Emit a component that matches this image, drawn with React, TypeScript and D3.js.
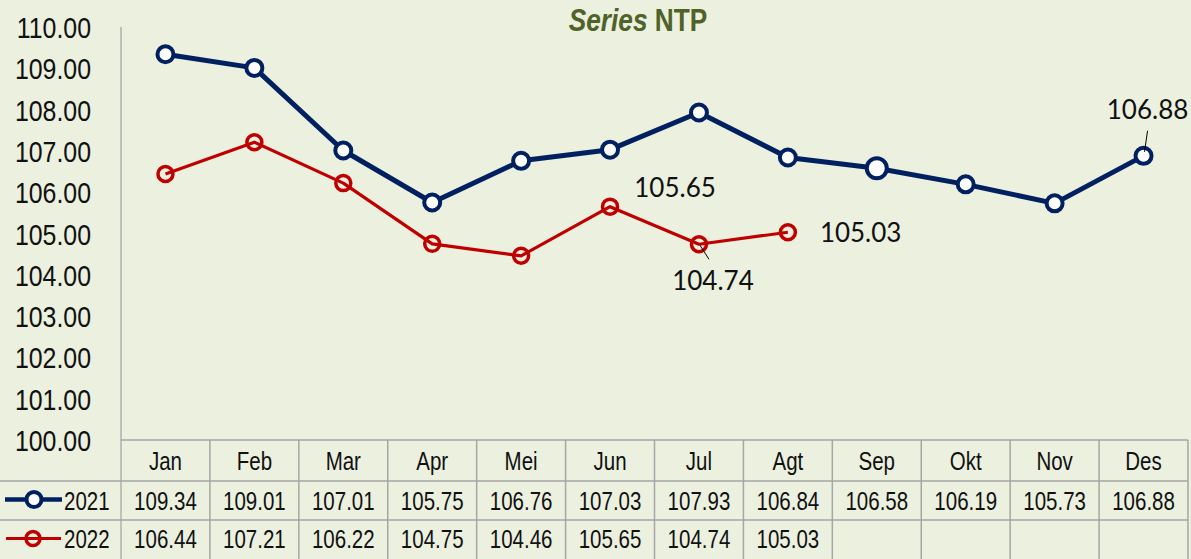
import * as d3 from "d3";
import React, { useEffect, useRef } from "react";

const months = ["Jan", "Feb", "Mar", "Apr", "Mei", "Jun", "Jul", "Agt", "Sep", "Okt", "Nov", "Des"];
const values2021 = [109.34, 109.01, 107.01, 105.75, 106.76, 107.03, 107.93, 106.84, 106.58, 106.19, 105.73, 106.88];
const values2022 = [106.44, 107.21, 106.22, 104.75, 104.46, 105.65, 104.74, 105.03];
const yTicks = [100, 101, 102, 103, 104, 105, 106, 107, 108, 109, 110];

// data labels shown on the chart: series, month index, offset from the point
const pointLabels = [
  { series: "2022", i: 5, dx: 65, dy: -10, anchor: "middle", leader: false },
  { series: "2022", i: 6, dx: 14, dy: 46, anchor: "middle", leader: true },
  { series: "2022", i: 7, dx: 32, dy: 10, anchor: "start", leader: false },
  { series: "2021", i: 11, dx: 4, dy: -37, anchor: "middle", leader: true },
];

const W = 1191;
const H = 559;
const BG = "#EBF0DF";
const NAVY = "#002060";
const RED = "#C00000";
const GRID = "#A6A6A6";
const NARROW = "'Liberation Sans', Arial, sans-serif";
const SQUEEZE = 0.82; // no Arial Narrow here, so squeeze Liberation Sans

const App = () => {
  const ref = useRef<SVGSVGElement | null>(null);

  useEffect(() => {
    const svg = d3.select(ref.current);
    svg.selectAll("*").remove();

    let plotLeft = 121, plotRight = 1188, plotTop = 27, plotBottom = 440;
    let rowY = [440, 481, 520, H];

    const x = d3.scaleBand().domain(months).range([plotLeft, plotRight]);
    const cx = (m) => x(m) + x.bandwidth() / 2;
    const y = d3.scaleLinear().domain([100, 110]).range([plotBottom, plotTop]);

    // narrow text helper
    const narrow = (g, tx, ty, size, anchor = "middle", sq = SQUEEZE) =>
      g.append("text")
        .attr("transform", `translate(${tx},${ty}) scale(${sq},1)`)
        .attr("text-anchor", anchor)
        .style("font-family", NARROW)
        .style("font-size", size + "px")
        .attr("fill", "#111");

    svg.append("rect").attr("width", W).attr("height", H).attr("fill", BG);

    // title
    const title = narrow(svg, 638, 31, 32).attr("fill", "#4F6228").style("font-weight", "bold");
    title.append("tspan").style("font-style", "italic").text("Series ");
    title.append("tspan").text("NTP");

    // y axis
    svg.append("line")
      .attr("x1", plotLeft).attr("x2", plotLeft)
      .attr("y1", plotTop).attr("y2", H)
      .attr("stroke", GRID).attr("stroke-width", 1.3);

    yTicks.forEach(t => {
      narrow(svg, 91, y(t) + 11, 30, "end", 0.83).text(d3.format(".2f")(t));
    });

    // table lines
    svg.append("line").attr("x1", plotLeft).attr("x2", plotRight)
      .attr("y1", rowY[0]).attr("y2", rowY[0]).attr("stroke", GRID).attr("stroke-width", 1.5);
    [rowY[1], rowY[2]].forEach(yy => {
      svg.append("line").attr("x1", 0).attr("x2", plotRight)
        .attr("y1", yy).attr("y2", yy).attr("stroke", GRID).attr("stroke-width", 1.5);
    });
    months.forEach(m => {
      svg.append("line").attr("x1", x(m) + x.bandwidth()).attr("x2", x(m) + x.bandwidth())
        .attr("y1", rowY[0]).attr("y2", H).attr("stroke", GRID).attr("stroke-width", 1.5);
    });

    months.forEach(m => {
      narrow(svg, cx(m), 470, 25).text(m);
    });

    const rows = [
      { name: "2021", vals: values2021, base: 510 },
      { name: "2022", vals: values2022, base: 548 },
    ];
    rows.forEach(r => {
      r.vals.forEach((v, i) => {
        narrow(svg, cx(months[i]), r.base, 25).text(v.toFixed(2));
      });
      narrow(svg, 64, r.base, 25, "start").text(r.name);
    });

    // legend keys
    const ly1 = (rowY[1] + rowY[2]) / 2 - 1;
    svg.append("line").attr("x1", 5).attr("x2", 62).attr("y1", ly1).attr("y2", ly1)
      .attr("stroke", NAVY).attr("stroke-width", 4.5);
    svg.append("circle").attr("cx", 34).attr("cy", ly1).attr("r", 7.5)
      .attr("fill", "white").attr("stroke", NAVY).attr("stroke-width", 4);
    const ly2 = (rowY[2] + H) / 2 - 1;
    svg.append("line").attr("x1", 6).attr("x2", 61).attr("y1", ly2).attr("y2", ly2)
      .attr("stroke", RED).attr("stroke-width", 3);
    svg.append("circle").attr("cx", 33).attr("cy", ly2).attr("r", 7)
      .attr("fill", "none").attr("stroke", RED).attr("stroke-width", 3.5);

    // lines
    const line = d3.line<number>()
      .x((d, i) => cx(months[i]))
      .y(d => y(d));

    svg.append("path").datum(values2021).attr("d", line)
      .attr("fill", "none").attr("stroke", NAVY).attr("stroke-width", 5).attr("stroke-linejoin", "round");
    svg.selectAll(".m2021").data(values2021).enter()
      .append("circle")
      .attr("cx", (d, i) => cx(months[i])).attr("cy", d => y(d))
      .attr("r", (d, i) => i === 8 ? 10 : 8)
      .attr("fill", "white").attr("stroke", NAVY).attr("stroke-width", 4);

    svg.append("path").datum(values2022).attr("d", line)
      .attr("fill", "none").attr("stroke", RED).attr("stroke-width", 3.2).attr("stroke-linejoin", "round");
    svg.selectAll(".m2022").data(values2022).enter()
      .append("circle")
      .attr("cx", (d, i) => cx(months[i])).attr("cy", d => y(d))
      .attr("r", 7.5)
      .attr("fill", "none").attr("stroke", RED).attr("stroke-width", 3.5);

    // data labels
    pointLabels.forEach(l => {
      const vals = l.series === "2021" ? values2021 : values2022;
      const px = cx(months[l.i]);
      const py = y(vals[l.i]);
      if (l.leader) {
        if (l.dy > 0) {
          svg.append("line").attr("x1", px + 1).attr("y1", py + 1).attr("x2", px + 10).attr("y2", py + 15)
            .attr("stroke", "#000").attr("stroke-width", 1);
        } else {
          svg.append("line").attr("x1", px + 1).attr("y1", py - 4).attr("x2", px + 4).attr("y2", py - 25)
            .attr("stroke", "#000").attr("stroke-width", 1);
        }
      }
      svg.append("text")
        .attr("x", px + l.dx).attr("y", py + l.dy)
        .attr("text-anchor", l.anchor)
        .style("font-family", "Lato, 'Open Sans', sans-serif")
        .style("font-size", "26px").attr("fill", "#111")
        .text(vals[l.i].toFixed(2));
    });
  }, []);

  return (
    <svg ref={ref} width={W} height={H} style={{ position: "absolute", left: 0, top: 0 }} />
  );
};

export default App;
